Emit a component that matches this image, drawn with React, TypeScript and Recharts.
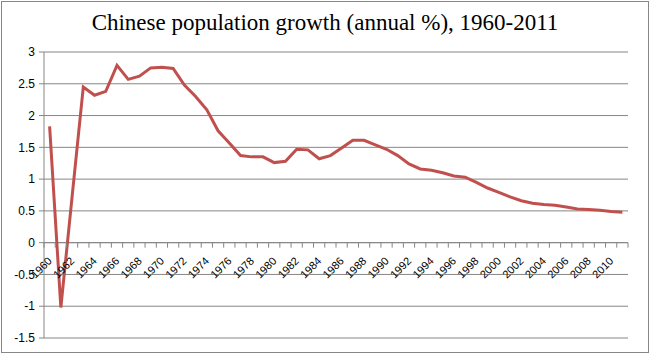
import { LineChart, Line, XAxis, YAxis, CartesianGrid, ReferenceLine } from "recharts";

const years = [
    1960, 1961, 1962, 1963, 1964, 1965, 1966, 1967, 1968, 1969,
    1970, 1971, 1972, 1973, 1974, 1975, 1976, 1977, 1978, 1979,
    1980, 1981, 1982, 1983, 1984, 1985, 1986, 1987, 1988, 1989,
    1990, 1991, 1992, 1993, 1994, 1995, 1996, 1997, 1998, 1999,
    2000, 2001, 2002, 2003, 2004, 2005, 2006, 2007, 2008, 2009,
    2010, 2011
];

const growth = [
    1.83, -1.02, 0.72, 2.45, 2.32, 2.38, 2.79, 2.57, 2.62, 2.75,
    2.76, 2.74, 2.48, 2.3, 2.09, 1.76, 1.57, 1.37, 1.35, 1.35,
    1.26, 1.28, 1.47, 1.46, 1.32, 1.37, 1.49, 1.61, 1.61, 1.54,
    1.47, 1.37, 1.24, 1.16, 1.14, 1.1, 1.05, 1.03, 0.95, 0.86,
    0.79, 0.72, 0.66, 0.62, 0.6, 0.59, 0.56, 0.53, 0.52, 0.51,
    0.49, 0.48
];

const yTicks = [-1.5, -1, -0.5, 0, 0.5, 1, 1.5, 2, 2.5, 3];

const data = years.map((y, i) => ({ year: String(y), value: growth[i] }));

// layout
const W = 650;
const H = 355;
const PLOT_LEFT = 44;
const PLOT_RIGHT = 628;
const PLOT_TOP = 52;
const PLOT_BOTTOM = 338;
const Y_MIN = -1.5;
const Y_MAX = 3;
const BAND = (PLOT_RIGHT - PLOT_LEFT) / years.length;
const ZERO_Y = PLOT_TOP + (PLOT_BOTTOM - PLOT_TOP) * (Y_MAX / (Y_MAX - Y_MIN));
const GRID = "#868686";

function YearTick(props: any) {
    const { x, payload, index } = props;
    const yr = Number(payload.value);
    const left = x - BAND / 2;
    const lx = x + 3;
    const ly = ZERO_Y + 19;
    return (
        <g>
            <line x1={left} x2={left} y1={ZERO_Y} y2={ZERO_Y + 5} stroke={GRID} />
            {index === years.length - 1 && (
                <line x1={x + BAND / 2} x2={x + BAND / 2} y1={ZERO_Y} y2={ZERO_Y + 5} stroke={GRID} />
            )}
            {yr % 2 === 0 && (
                <g transform={`translate(${lx},${ly}) rotate(-45)`}>
                    <text
                        x={0}
                        y={0}
                        textAnchor="end"
                        fontSize={11}
                        fontFamily="'Liberation Sans', Arial, sans-serif"
                        fill="#000"
                    >
                        {payload.value}
                    </text>
                </g>
            )}
        </g>
    );
}

export default function App() {
    return (
        <div style={{ position: "absolute", left: 0, top: 0, width: W, height: H, background: "#fff" }}>
            <div
                style={{
                    position: "absolute",
                    left: 1,
                    top: 1,
                    width: 648,
                    height: 352,
                    border: "1px solid #878787",
                    boxSizing: "border-box"
                }}
            />
            <div
                style={{
                    position: "absolute",
                    left: 0,
                    top: 10,
                    width: W,
                    textAlign: "center",
                    fontFamily: "'Liberation Serif', Georgia, serif",
                    fontSize: 23,
                    color: "#000"
                }}
            >
                Chinese population growth (annual %), 1960-2011
            </div>
            <div style={{ position: "absolute", left: 0, top: 0 }}>
                <LineChart
                    width={W}
                    height={H}
                    data={data}
                    margin={{ top: PLOT_TOP, right: W - PLOT_RIGHT, bottom: H - PLOT_BOTTOM - 1, left: 0 }}
                >
                    <CartesianGrid vertical={false} stroke={GRID} strokeWidth={1} />
                    <XAxis
                        dataKey="year"
                        height={1}
                        interval={0}
                        axisLine={false}
                        tickLine={false}
                        padding={{ left: BAND / 2, right: BAND / 2 }}
                        tick={(p: any) => <YearTick {...p} />}
                    />
                    <YAxis
                        width={PLOT_LEFT}
                        domain={[Y_MIN, Y_MAX]}
                        ticks={yTicks}
                        interval={0}
                        axisLine={{ stroke: GRID }}
                        tickLine={{ stroke: GRID }}
                        tickSize={5}
                        tickMargin={4}
                        tick={{ fill: "#000", fontSize: 12, fontFamily: "'Liberation Sans', Arial, sans-serif" }}
                    />
                    <ReferenceLine y={0} stroke={GRID} />
                    <Line
                        type="linear"
                        dataKey="value"
                        stroke="#C0504D"
                        strokeWidth={3}
                        dot={false}
                        isAnimationActive={false}
                    />
                </LineChart>
            </div>
        </div>
    );
}
